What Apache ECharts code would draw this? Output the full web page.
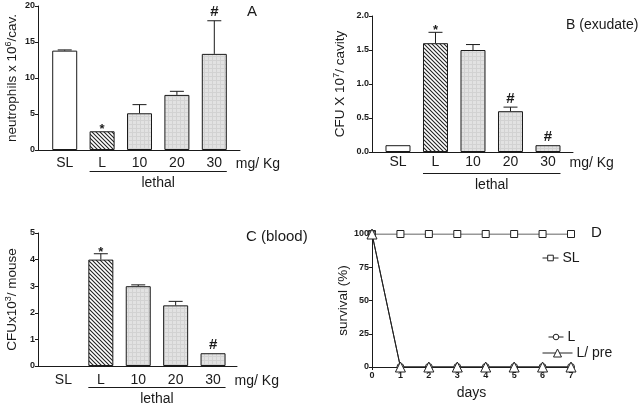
<!DOCTYPE html>
<html><head><meta charset="utf-8">
<script src="https://cdn.jsdelivr.net/npm/echarts@6/dist/echarts.min.js"></script>
<style>html,body{margin:0;padding:0;background:#fff}#main{width:640px;height:408px}</style>
</head><body><div id="main"></div>
<script>
// ---------- data ----------
const doseCats = ['SL', 'L', '10', '20', '30'];
const unitLabel = 'mg/ Kg';
const groupLabel = 'lethal';

const neutroVals = [13.8, 2.6, 5.1, 7.65, 13.35];
const neutroErrTop = [13.9, 2.6, 6.3, 8.15, 17.95];
const neutroMarks = ['', '*', '', '', '#'];

const exudateVals = [0.1, 1.6, 1.5, 0.6, 0.1];
const exudateErrTop = [0.1, 1.76, 1.58, 0.66, 0.1];
const exudateMarks = ['', '*', '', '#', '#'];

const bloodVals = [0, 4.0, 3.0, 2.28, 0.48];
const bloodErrTop = [0, 4.22, 3.05, 2.43, 0.48];
const bloodMarks = ['', '*', '', '', '#'];

const days = [0, 1, 2, 3, 4, 5, 6, 7];
const survSL = [100, 100, 100, 100, 100, 100, 100, 100];
const survL = [100, 0, 0, 0, 0, 0, 0, 0];
const survLpre = [100, 0, 0, 0, 0, 0, 0, 0];

// ---------- styles ----------
const FONT = '"Liberation Sans", Arial, sans-serif';
const INK = '#1a1a1a';
function hatchPattern() {
  const c = document.createElement('canvas');
  c.width = 4; c.height = 4;
  const g = c.getContext('2d');
  g.fillStyle = '#ffffff'; g.fillRect(0, 0, 4, 4);
  g.strokeStyle = '#222'; g.lineWidth = 1.1;
  g.beginPath();
  g.moveTo(-1, -1); g.lineTo(5, 5);
  g.moveTo(-1, 3); g.lineTo(1, 5);
  g.moveTo(3, -1); g.lineTo(5, 1);
  g.stroke();
  return c;
}
function greyPattern() {
  const c = document.createElement('canvas');
  c.width = 4; c.height = 4;
  const g = c.getContext('2d');
  g.fillStyle = '#e2e2e2'; g.fillRect(0, 0, 4, 4);
  g.fillStyle = '#d2d2d2'; g.fillRect(0, 0, 4, 1); g.fillRect(0, 0, 1, 4);
  return c;
}
const hatch = { image: hatchPattern(), repeat: 'repeat' };
const grey = { image: greyPattern(), repeat: 'repeat' };
const fillFor = i => (i === 0 ? '#ffffff' : i === 1 ? hatch : grey);

function barData(vals) {
  return vals.map((v, i) => ({
    value: [i, v],
    itemStyle: { color: fillFor(i), borderColor: INK, borderWidth: v > 0 ? 1 : 0 }
  }));
}
function errData(vals, tops) {
  return vals.map((v, i) => [i, v, tops[i]]);
}
function errRender(marks) {
  return function (params, api) {
    const i = params.dataIndex;
    const x = api.value(0);
    const p0 = api.coord([x, api.value(1)]);
    const p1 = api.coord([x, api.value(2)]);
    const children = [];
    if (p0[1] - p1[1] > 0.5) {
      children.push({ type: 'line', shape: { x1: p0[0], y1: p0[1], x2: p1[0], y2: p1[1] }, style: { stroke: INK, lineWidth: 1 } });
      children.push({ type: 'line', shape: { x1: p1[0] - 7, y1: p1[1], x2: p1[0] + 7, y2: p1[1] }, style: { stroke: INK, lineWidth: 1 } });
    }
    const m = marks[i];
    if (m) {
      const star = m === '*';
      children.push({
        type: 'text',
        style: {
          text: m, x: p1[0], y: p1[1] + (star ? 5 : -1),
          align: 'center', verticalAlign: 'bottom',
          font: 'bold ' + (star ? 13 : 15) + 'px ' + FONT, fill: INK
        }
      });
    }
    return { type: 'group', children };
  };
}

const yLineAxis = (idx, min, max, interval, name, gap, fmt) => ({
  gridIndex: idx, type: 'value', min, max, interval,
  axisLine: { show: true, onZero: false, lineStyle: { color: INK, width: 1 } },
  axisTick: { show: true, length: 3, lineStyle: { color: INK } },
  splitLine: { show: false },
  axisLabel: { fontSize: 9, color: INK, fontFamily: FONT, margin: 3, fontWeight: 'bold', formatter: fmt },
  name, nameLocation: 'middle', nameRotate: 90, nameGap: gap,
  nameTextStyle: {
    fontFamily: FONT, color: INK, fontSize: 13.5,
    rich: {
      n: { fontFamily: FONT, color: INK, fontSize: 13.5, lineHeight: 17 },
      s: { fontFamily: FONT, color: INK, fontSize: 9, lineHeight: 10, verticalAlign: 'top' }
    }
  }
});

const xCatAxis = (idx, min, max, margin) => ({
  gridIndex: idx, type: 'value', min, max,
  axisLine: { show: true, onZero: false, lineStyle: { color: INK, width: 1 } },
  axisTick: { show: false },
  splitLine: { show: false },
  axisLabel: {
    customValues: [0, 1, 2, 3, 4],
    formatter: v => doseCats[Math.round(v)],
    fontSize: 14, color: INK, fontFamily: FONT, margin
  }
});

const legendBase = {
  textStyle: { fontSize: 14, color: INK, fontFamily: FONT, padding: [0, 0, 0, -1] },
  lineStyle: { width: 1, color: '#222' },
  itemStyle: { color: '#fff', borderColor: '#222', borderWidth: 1 }
};

const chart = echarts.init(document.getElementById('main'), null, { renderer: 'canvas' });

const option = {
  animation: false,
  backgroundColor: '#ffffff',
  textStyle: { fontFamily: FONT },
  grid: [
    { left: 38, top: 6, width: 202, height: 144 },
    { left: 372, top: 16, width: 201, height: 136 },
    { left: 38, top: 233, width: 199, height: 133 },
    { left: 372, top: 234, width: 199, height: 133 }
  ],
  title: [
    { text: 'A', left: 242, top: -1, textStyle: { fontSize: 15, fontWeight: 'normal', color: INK, fontFamily: FONT } },
    { text: 'B (exudate)', left: 561, top: 13, textStyle: { fontSize: 14, fontWeight: 'normal', color: INK, fontFamily: FONT } },
    { text: 'C (blood)', left: 241, top: 224, textStyle: { fontSize: 15, fontWeight: 'normal', color: INK, fontFamily: FONT } },
    { text: 'D', left: 586, top: 220, textStyle: { fontSize: 15, fontWeight: 'normal', color: INK, fontFamily: FONT } }
  ],
  xAxis: [
    xCatAxis(0, -0.714, 4.687, 6),
    xCatAxis(1, -0.693, 4.667, 3),
    xCatAxis(2, -0.68, 4.64, 7),
    {
      gridIndex: 3, type: 'value', min: 0, max: 7, interval: 1,
      axisLine: { show: true, onZero: false, lineStyle: { color: INK, width: 1 } },
      axisTick: { show: true, length: 3, lineStyle: { color: INK } },
      splitLine: { show: false },
      axisLabel: { fontSize: 9, color: INK, fontFamily: FONT, margin: 4, fontWeight: 'bold' },
      name: 'days', nameLocation: 'middle', nameGap: 19,
      nameTextStyle: { fontSize: 14, color: INK, fontFamily: FONT }
    }
  ],
  yAxis: [
    yLineAxis(0, 0, 20, 5, '{n|neutrophils x 10}{s|6}{n|/cav.}', 17),
    yLineAxis(1, 0, 2, 0.5, '{n|CFU X 10}{s|7}{n|/ cavity}', 23, v => v.toFixed(1)),
    yLineAxis(2, 0, 5, 1, '{n|CFUx10}{s|3}{n|/ mouse}', 17),
    yLineAxis(3, 0, 100, 25, 'survival (%)', 22)
  ],
  legend: [
    Object.assign({ data: ['SL'], left: 537, top: 246, itemWidth: 16, itemHeight: 7 }, legendBase),
    Object.assign({ data: ['L'], left: 543, top: 325, itemWidth: 15, itemHeight: 7 }, legendBase),
    Object.assign({ data: ['L/ pre'], left: 537, top: 341, itemWidth: 30, itemHeight: 10 }, legendBase)
  ],
  series: [
    { type: 'bar', xAxisIndex: 0, yAxisIndex: 0, barWidth: 25, data: barData(neutroVals) },
    { type: 'custom', xAxisIndex: 0, yAxisIndex: 0, renderItem: errRender(neutroMarks), data: errData(neutroVals, neutroErrTop), z: 5 },
    { type: 'bar', xAxisIndex: 1, yAxisIndex: 1, barWidth: 25, data: barData(exudateVals) },
    { type: 'custom', xAxisIndex: 1, yAxisIndex: 1, renderItem: errRender(exudateMarks), data: errData(exudateVals, exudateErrTop), z: 5 },
    { type: 'bar', xAxisIndex: 2, yAxisIndex: 2, barWidth: 25, data: barData(bloodVals) },
    { type: 'custom', xAxisIndex: 2, yAxisIndex: 2, renderItem: errRender(bloodMarks), data: errData(bloodVals, bloodErrTop), z: 5 },
    {
      name: 'SL', type: 'line', xAxisIndex: 3, yAxisIndex: 3,
      data: days.map((d, i) => [d, survSL[i]]),
      symbol: 'rect', symbolSize: 7, showAllSymbol: true,
      lineStyle: { color: '#333', width: 1 },
      itemStyle: { color: '#fff', borderColor: '#222', borderWidth: 1 }
    },
    {
      name: 'L', type: 'line', xAxisIndex: 3, yAxisIndex: 3,
      data: days.map((d, i) => [d, survL[i]]),
      symbol: 'circle', symbolSize: 7, showAllSymbol: true,
      lineStyle: { color: '#222', width: 1 },
      itemStyle: { color: '#fff', borderColor: '#222', borderWidth: 1 }
    },
    {
      name: 'L/ pre', type: 'line', xAxisIndex: 3, yAxisIndex: 3,
      data: days.map((d, i) => [d, survLpre[i]]),
      symbol: 'triangle', symbolSize: 10, showAllSymbol: true,
      lineStyle: { color: '#222', width: 1 },
      itemStyle: { color: '#fff', borderColor: '#222', borderWidth: 1 }
    }
  ]
};
chart.setOption(option);

// group underline, "lethal" and unit labels positioned from the axes' own scales
const labelMargins = [6, 3, 7];
const graphics = [];
[0, 1, 2].forEach(g => {
  const base = chart.convertToPixel({ gridIndex: g }, [0, 0]);
  const pL = chart.convertToPixel({ gridIndex: g }, [1, 0]);
  const pLast = chart.convertToPixel({ gridIndex: g }, [4, 0]);
  const halfBar = 12.5;
  const axisY = base[1];
  const x1 = pL[0] - halfBar, x2 = pLast[0] + halfBar;
  graphics.push({ type: 'line', shape: { x1, y1: axisY + 21.5, x2, y2: axisY + 21.5 }, style: { stroke: INK, lineWidth: 1 } });
  graphics.push({ type: 'text', style: { text: groupLabel, x: (x1 + x2) / 2, y: axisY + 33, align: 'center', verticalAlign: 'middle', font: '14px ' + FONT, fill: INK } });
  graphics.push({ type: 'text', style: { text: unitLabel, x: x2 + 9, y: axisY + labelMargins[g] + 8, align: 'left', verticalAlign: 'middle', font: '14px ' + FONT, fill: INK } });
});
chart.setOption({ graphic: graphics });
</script>
</body></html>
